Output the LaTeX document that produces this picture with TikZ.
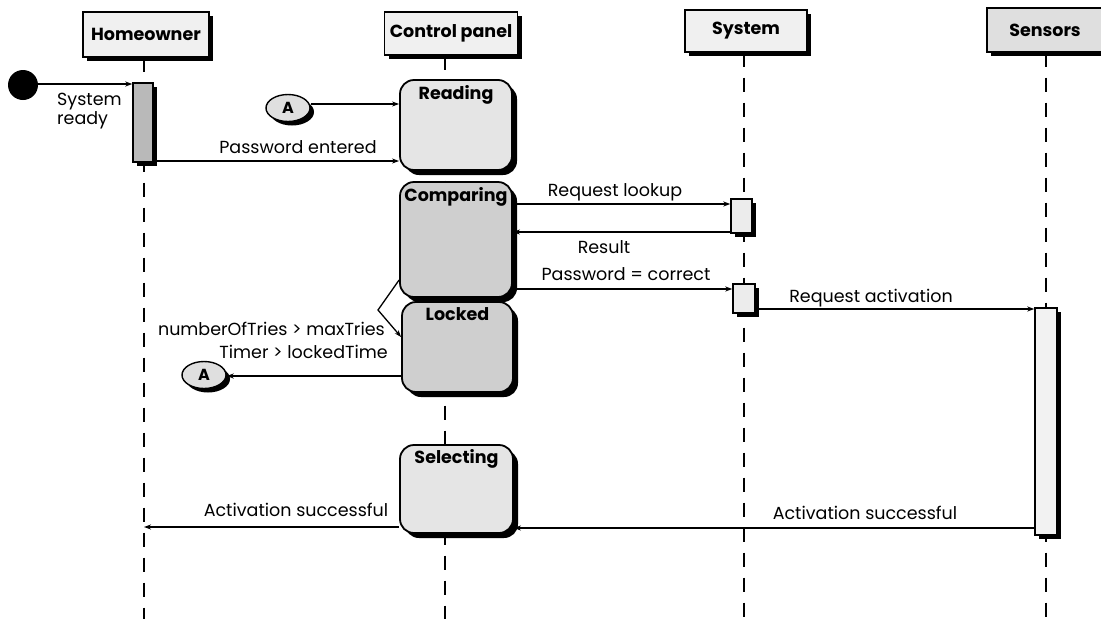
\documentclass[tikz,border=0pt]{standalone}
\usepackage{fontspec}
\setmainfont{Poppins}
\usetikzlibrary{shadows,arrows.meta,shapes.geometric}

\begin{document}
\begin{tikzpicture}[x=1pt,y=-1pt,
  shade/.style={drop shadow={shadow xshift=4pt,shadow yshift=-4pt,fill=black,opacity=1}},
  header/.style={draw,line width=1.4pt,fill=gray!12,shade,inner sep=0pt,
    font=\fontsize{17.5}{19}\selectfont\bfseries},
  statebox/.style={draw,line width=1.8pt,rounded corners=14pt,fill=gray!20,
    drop shadow={shadow xshift=5pt,shadow yshift=-5pt,fill=black,opacity=1},inner sep=0pt},
  statename/.style={anchor=north,inner sep=0pt,font=\fontsize{17.5}{19}\selectfont\bfseries},
  actbar/.style={draw,line width=1.4pt,fill=gray!15,shade,inner sep=0pt},
  connector/.style={ellipse,draw,line width=1.4pt,fill=gray!25,shade,inner sep=0pt,
    minimum width=44pt,minimum height=27pt,font=\fontsize{16}{18}\selectfont\bfseries},
  msg/.style={-{Stealth[length=7pt,width=5pt]},line width=1.3pt},
  lifeline/.style={line width=2pt,dash pattern=on 14pt off 11pt},
  lbl/.style={inner sep=0pt,font=\fontsize{17.5}{19}\selectfont}]

\useasboundingbox (0,0) rectangle (1101,619);

% object headers
\node[header,minimum width=126pt,minimum height=45pt] (home) at (146,34.5) {Homeowner};
\node[header,minimum width=133pt,minimum height=43pt] (panel) at (451,33.5) {Control panel};
\node[header,minimum width=122pt,minimum height=42pt] (sys) at (746,31) {System};
\node[header,fill=gray!25,minimum width=116pt,minimum height=44pt] (sens) at (1045,30) {Sensors};

% lifelines
\coordinate (homeEnd) at (144,619);
\coordinate (panelEnd) at (445,619);
\coordinate (sysEnd) at (744,619);
\coordinate (sensEnd) at (1046,619);
\draw[lifeline] (home.south -| homeEnd) -- (homeEnd);
\draw[lifeline] (panel.south -| panelEnd) -- (panelEnd);
\draw[lifeline] (sys.south -| sysEnd) -- (sysEnd);
\draw[lifeline] (sens.south -| sensEnd) -- (sensEnd);

% activation bars
\node[actbar,fill=gray!55,minimum width=20pt,minimum height=79pt] (hbar) at (143,122.5) {};
\node[actbar,minimum width=21pt,minimum height=34pt] (sbarA) at (741.5,216) {};
\node[actbar,minimum width=22pt,minimum height=29pt] (sbarB) at (744,298.5) {};
\node[actbar,fill=gray!10,minimum width=22pt,minimum height=227pt] (nbar) at (1046,421.5) {};

% states of the control panel
\node[statebox,minimum width=112pt,minimum height=90pt] (reading) at (456,125) {};
\node[statename] (readingName) at ([yshift=-6pt]reading.north) {Reading};
\node[statebox,fill=gray!38,minimum width=112pt,minimum height=115pt] (comparing) at (456,239.5) {};
\node[statename] (comparingName) at ([yshift=-6pt]comparing.north) {Comparing};
\node[statebox,fill=gray!38,minimum width=111pt,minimum height=90pt] (locked) at (457.5,347) {};
\node[statename] (lockedName) at ([yshift=-6pt]locked.north) {Locked};
\node[statebox,minimum width=113pt,minimum height=88pt] (selecting) at (456.5,489) {};
\node[statename] (selectingName) at ([yshift=-5pt]selecting.north) {Selecting};

% initial state and connectors
\node[circle,fill=black,minimum size=30pt,inner sep=0pt] (start) at (23,85) {};
\node[connector] (aIn) at (288,108) {A};
\node[connector] (aOut) at (204,375) {A};

% messages
\draw[msg] (start.east |- 0,84) -- (hbar.west |- 0,84);
\node[lbl,anchor=north west,align=left,font=\fontsize{17.5}{16}\selectfont] (readyLbl) at (57,93) {System\\ready};

\draw[msg] (aIn.east |- 0,104) -- (reading.west |- 0,104);

\draw[msg] (hbar.east |- 0,161) -- (reading.west |- 0,161);
\node[lbl,anchor=base] (pwLbl) at (298,153) {Password entered};

\draw[msg] (comparing.east |- 0,204) -- (sbarA.west |- 0,204);
\node[lbl,anchor=base] (lookupLbl) at (615,196) {Request lookup};

\draw[msg] (sbarA.west |- 0,232) -- (comparing.east |- 0,232);
\node[lbl,anchor=base] (resultLbl) at (604,253) {Result};

\draw[msg] (comparing.east |- 0,289) -- (sbarB.west |- 0,289);
\node[lbl,anchor=base] (correctLbl) at (626,280) {Password = correct};

\draw[msg] (sbarB.east |- 0,309) -- (nbar.west |- 0,309);
\node[lbl,anchor=base] (activLbl) at (871,302) {Request activation};

\draw[msg] (nbar.west |- 0,528) -- (selecting.east |- 0,528);
\node[lbl,anchor=base] (okRightLbl) at (865,519) {Activation successful};

\draw[msg] (selecting.west |- 0,527) -- (homeEnd |- 0,527);
\node[lbl,anchor=base] (okLeftLbl) at (296,516) {Activation successful};

% transition from Comparing to Locked
\coordinate (bend) at (378,310);
\draw[msg] (comparing.west |- 0,280) -- (bend) -- (locked.west |- 0,337);
\node[lbl,anchor=base east] (triesLbl) at (385,335) {numberOfTries > maxTries};
\node[lbl,anchor=base east] (timerLbl) at (388,358) {Timer > lockedTime};

\draw[msg] (locked.west |- 0,376) -- (aOut.east |- 0,376);
\end{tikzpicture}
\end{document}
